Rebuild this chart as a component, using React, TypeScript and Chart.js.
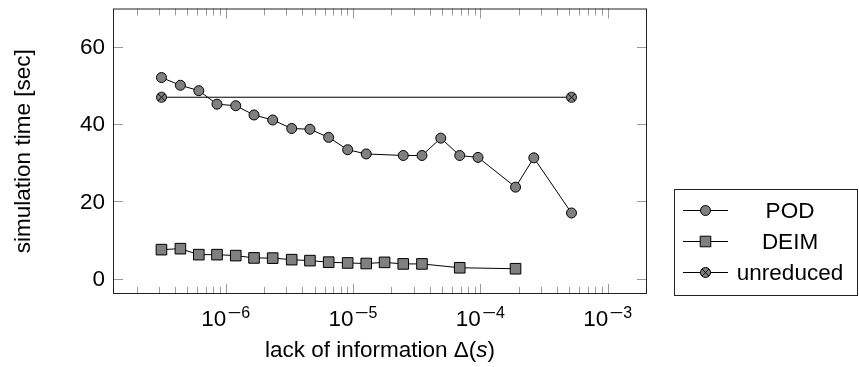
import React, { useEffect, useRef } from "react";
import { Chart, registerables } from "chart.js";

Chart.register(...registerables);

// ---- data ----
const podX = [3.13e-7, 4.41e-7, 6.15e-7, 8.55e-7, 1.2e-6, 1.67e-6, 2.34e-6, 3.3e-6, 4.59e-6, 6.44e-6, 9.08e-6, 1.27e-5, 2.48e-5, 3.48e-5, 4.89e-5, 6.89e-5, 9.59e-5, 1.89e-4, 2.63e-4, 5.2e-4];
const podY = [52.1, 50.1, 48.7, 45.2, 44.8, 42.4, 41.1, 38.9, 38.7, 36.6, 33.4, 32.3, 31.9, 31.9, 36.4, 31.9, 31.4, 23.7, 31.3, 17.0];

const deimX = [3.13e-7, 4.41e-7, 6.15e-7, 8.55e-7, 1.2e-6, 1.67e-6, 2.34e-6, 3.3e-6, 4.59e-6, 6.44e-6, 9.08e-6, 1.27e-5, 1.77e-5, 2.48e-5, 3.48e-5, 6.89e-5, 1.89e-4];
const deimY = [7.5, 7.75, 6.2, 6.2, 5.95, 5.35, 5.3, 4.9, 4.65, 4.25, 4.05, 3.9, 4.2, 3.8, 3.8, 2.8, 2.55];

const unreducedX = [3.13e-7, 5.2e-4];
const unreducedY = [47.0, 47.0];

const seriesNames = ["POD", "DEIM", "unreduced"];
const xDecades = [-6, -5, -4, -3];
const yTicks = [0, 20, 40, 60];
const xTitle = "lack of information Δ(";
const xTitleItalic = "s";
const xTitleEnd = ")";
const yTitle = "simulation time [sec]";

const X_MIN = Math.pow(10, -6.885);
const X_MAX = Math.pow(10, -2.691);
const Y_MIN = -4;
const Y_MAX = 70;

const FONT = '"Liberation Sans", Arial, Helvetica, sans-serif';
const FS = 22.5;
const MARKER_FILL = "#808080";

function makeCrossCircle(r: number): HTMLCanvasElement {
  const c = document.createElement("canvas");
  const s = Math.ceil(2 * r + 3);
  c.width = s;
  c.height = s;
  const g = c.getContext("2d")!;
  const cx = s / 2,
    cy = s / 2;
  g.beginPath();
  g.arc(cx, cy, r, 0, Math.PI * 2);
  g.fillStyle = MARKER_FILL;
  g.fill();
  g.lineWidth = 1;
  g.strokeStyle = "#000";
  g.stroke();
  const d = r * Math.SQRT1_2;
  g.beginPath();
  g.moveTo(cx - d, cy - d);
  g.lineTo(cx + d, cy + d);
  g.moveTo(cx + d, cy - d);
  g.lineTo(cx - d, cy + d);
  g.stroke();
  return c;
}

function drawMarker(ctx: CanvasRenderingContext2D, kind: number, x: number, y: number, cross: HTMLCanvasElement) {
  ctx.save();
  ctx.fillStyle = MARKER_FILL;
  ctx.strokeStyle = "#000";
  ctx.lineWidth = 1;
  if (kind === 0) {
    ctx.beginPath();
    ctx.arc(x, y, 5, 0, Math.PI * 2);
    ctx.fill();
    ctx.stroke();
  } else if (kind === 1) {
    const h = 7.5 * Math.SQRT1_2;
    ctx.beginPath();
    ctx.rect(x - h, y - h, 2 * h, 2 * h);
    ctx.fill();
    ctx.stroke();
  } else {
    ctx.drawImage(cross, x - cross.width / 2, y - cross.height / 2);
  }
  ctx.restore();
}

export default function App() {
  const ref = useRef<HTMLCanvasElement | null>(null);

  useEffect(() => {
    if (!ref.current) return;
    const cross = makeCrossCircle(5);

    const decorPlugin = {
      id: "decor",
      beforeDatasetsDraw(chart: any) {
        const { ctx, chartArea } = chart;
        const xs = chart.scales.x;
        const ys = chart.scales.y;
        const L = chartArea.left,
          R = chartArea.right,
          T = chartArea.top,
          B = chartArea.bottom;
        ctx.save();
        ctx.strokeStyle = "#9a9a9a";
        ctx.lineWidth = 1;
        ctx.beginPath();
        for (let e = -8; e <= -2; e++) {
          for (let m = 1; m <= 9; m++) {
            const v = m * Math.pow(10, e);
            const px = Math.round(xs.getPixelForValue(v)) + 0.5;
            if (px <= L + 1 || px >= R - 1) continue;
            const len = m === 1 ? 10 : 7;
            ctx.moveTo(px, B);
            ctx.lineTo(px, B - len);
            ctx.moveTo(px, T);
            ctx.lineTo(px, T + len);
          }
        }
        for (const v of yTicks) {
          const py = Math.round(ys.getPixelForValue(v)) + 0.5;
          ctx.moveTo(L, py);
          ctx.lineTo(L + 10, py);
          ctx.moveTo(R, py);
          ctx.lineTo(R - 10, py);
        }
        ctx.stroke();
        ctx.restore();
      },
      afterDraw(chart: any) {
        const { ctx, chartArea } = chart;
        const xs = chart.scales.x;
        const ys = chart.scales.y;
        const L = chartArea.left,
          R = chartArea.right,
          T = chartArea.top,
          B = chartArea.bottom;
        ctx.save();
        ctx.strokeStyle = "#222";
        ctx.lineWidth = 1;
        ctx.strokeRect(L + 0.5, T + 0.5, R - L - 1, B - T - 1);

        ctx.fillStyle = "#000";
        // y tick labels
        ctx.font = `${FS}px ${FONT}`;
        ctx.textAlign = "right";
        ctx.textBaseline = "middle";
        for (const v of yTicks) {
          ctx.fillText(String(v), L - 8, ys.getPixelForValue(v) + 1);
        }

        // x tick labels 10^e
        ctx.textBaseline = "alphabetic";
        ctx.textAlign = "left";
        for (const e of xDecades) {
          const px = xs.getPixelForValue(Math.pow(10, e));
          ctx.font = `${FS}px ${FONT}`;
          const w10 = ctx.measureText("10").width;
          ctx.font = `16px ${FONT}`;
          const wm = ctx.measureText("\u2212").width * 1.5;
          const wd = ctx.measureText(String(-e)).width;
          const total = w10 + 1 + wm + wd;
          let x0 = px - total / 2;
          ctx.font = `${FS}px ${FONT}`;
          ctx.fillText("10", x0, 326);
          x0 += w10 + 1;
          ctx.font = `16px ${FONT}`;
          ctx.save();
          ctx.translate(x0, 318);
          ctx.scale(1.5, 1);
          ctx.fillText("\u2212", 0, 0);
          ctx.restore();
          x0 += wm;
          ctx.fillText(String(-e), x0, 318);
        }

        // x title
        ctx.font = `${FS}px ${FONT}`;
        const w1 = ctx.measureText(xTitle).width;
        ctx.font = `italic ${FS}px ${FONT}`;
        const w2 = ctx.measureText(xTitleItalic).width;
        ctx.font = `${FS}px ${FONT}`;
        const w3 = ctx.measureText(xTitleEnd).width;
        let tx = (L + R) / 2 - (w1 + w2 + w3) / 2;
        ctx.fillText(xTitle, tx, 357);
        tx += w1;
        ctx.font = `italic ${FS}px ${FONT}`;
        ctx.fillText(xTitleItalic, tx, 357);
        tx += w2;
        ctx.font = `${FS}px ${FONT}`;
        ctx.fillText(xTitleEnd, tx, 357);

        // y title
        ctx.save();
        ctx.translate(29.5, (T + B) / 2);
        ctx.rotate(-Math.PI / 2);
        ctx.textAlign = "center";
        ctx.fillText(yTitle, 0, 0);
        ctx.restore();

        // legend
        const lx0 = 674,
          lx1 = 857,
          ly0 = 189,
          ly1 = 295;
        ctx.fillStyle = "#fff";
        ctx.fillRect(lx0, ly0, lx1 - lx0, ly1 - ly0);
        ctx.strokeStyle = "#222";
        ctx.strokeRect(lx0 + 0.5, ly0 + 0.5, lx1 - lx0, ly1 - ly0);
        const rows = [210, 241, 272];
        seriesNames.forEach((name, i) => {
          const y = rows[i];
          ctx.strokeStyle = "#000";
          ctx.lineWidth = 1;
          ctx.beginPath();
          ctx.moveTo(683, y + 0.5);
          ctx.lineTo(728, y + 0.5);
          ctx.stroke();
          drawMarker(ctx, i, 705.5, y + 0.5, cross);
          ctx.fillStyle = "#000";
          ctx.font = `${FS}px ${FONT}`;
          ctx.textAlign = "center";
          ctx.textBaseline = "alphabetic";
          ctx.fillText(name, 790, y + 8);
        });
        ctx.restore();
      },
    };

    const mk = (xsArr: number[], ysArr: number[]) => xsArr.map((x, i) => ({ x, y: ysArr[i] }));

    const chart = new Chart(ref.current, {
      type: "line",
      data: {
        datasets: [
          {
            label: seriesNames[0],
            data: mk(podX, podY),
            borderColor: "#000",
            borderWidth: 1,
            pointStyle: "circle",
            pointRadius: 5,
            pointBackgroundColor: MARKER_FILL,
            pointBorderColor: "#000",
            pointBorderWidth: 1,
            tension: 0,
          },
          {
            label: seriesNames[1],
            data: mk(deimX, deimY),
            borderColor: "#000",
            borderWidth: 1,
            pointStyle: "rect",
            pointRadius: 7.5,
            pointBackgroundColor: MARKER_FILL,
            pointBorderColor: "#000",
            pointBorderWidth: 1,
            tension: 0,
          },
          {
            label: seriesNames[2],
            data: mk(unreducedX, unreducedY),
            borderColor: "#000",
            borderWidth: 1,
            pointStyle: cross as any,
            pointRadius: 5,
            tension: 0,
          },
        ],
      },
      options: {
        responsive: false,
        animation: false,
        devicePixelRatio: 1,
        layout: { padding: { left: 0, top: 7, right: 212, bottom: 0 } },
        plugins: { legend: { display: false }, tooltip: { enabled: false } },
        scales: {
          x: {
            type: "logarithmic",
            min: X_MIN,
            max: X_MAX,
            ticks: { display: false },
            grid: { display: false },
            border: { display: false },
            afterFit: (s: any) => {
              s.height = 73;
            },
          },
          y: {
            type: "linear",
            min: Y_MIN,
            max: Y_MAX,
            afterBuildTicks: (s: any) => {
              s.ticks = yTicks.map((v) => ({ value: v }));
            },
            ticks: { display: false },
            grid: { display: false, drawTicks: false },
            border: { display: false },
            afterFit: (s: any) => {
              s.width = 113;
            },
          },
        },
      } as any,
      plugins: [decorPlugin],
    });
    return () => chart.destroy();
  }, []);

  return (
    <div style={{ position: "fixed", left: 0, top: 0, width: 859, height: 367, background: "#fff" }}>
      <canvas ref={ref} width={859} height={367} style={{ width: 859, height: 367, display: "block" }} />
    </div>
  );
}
